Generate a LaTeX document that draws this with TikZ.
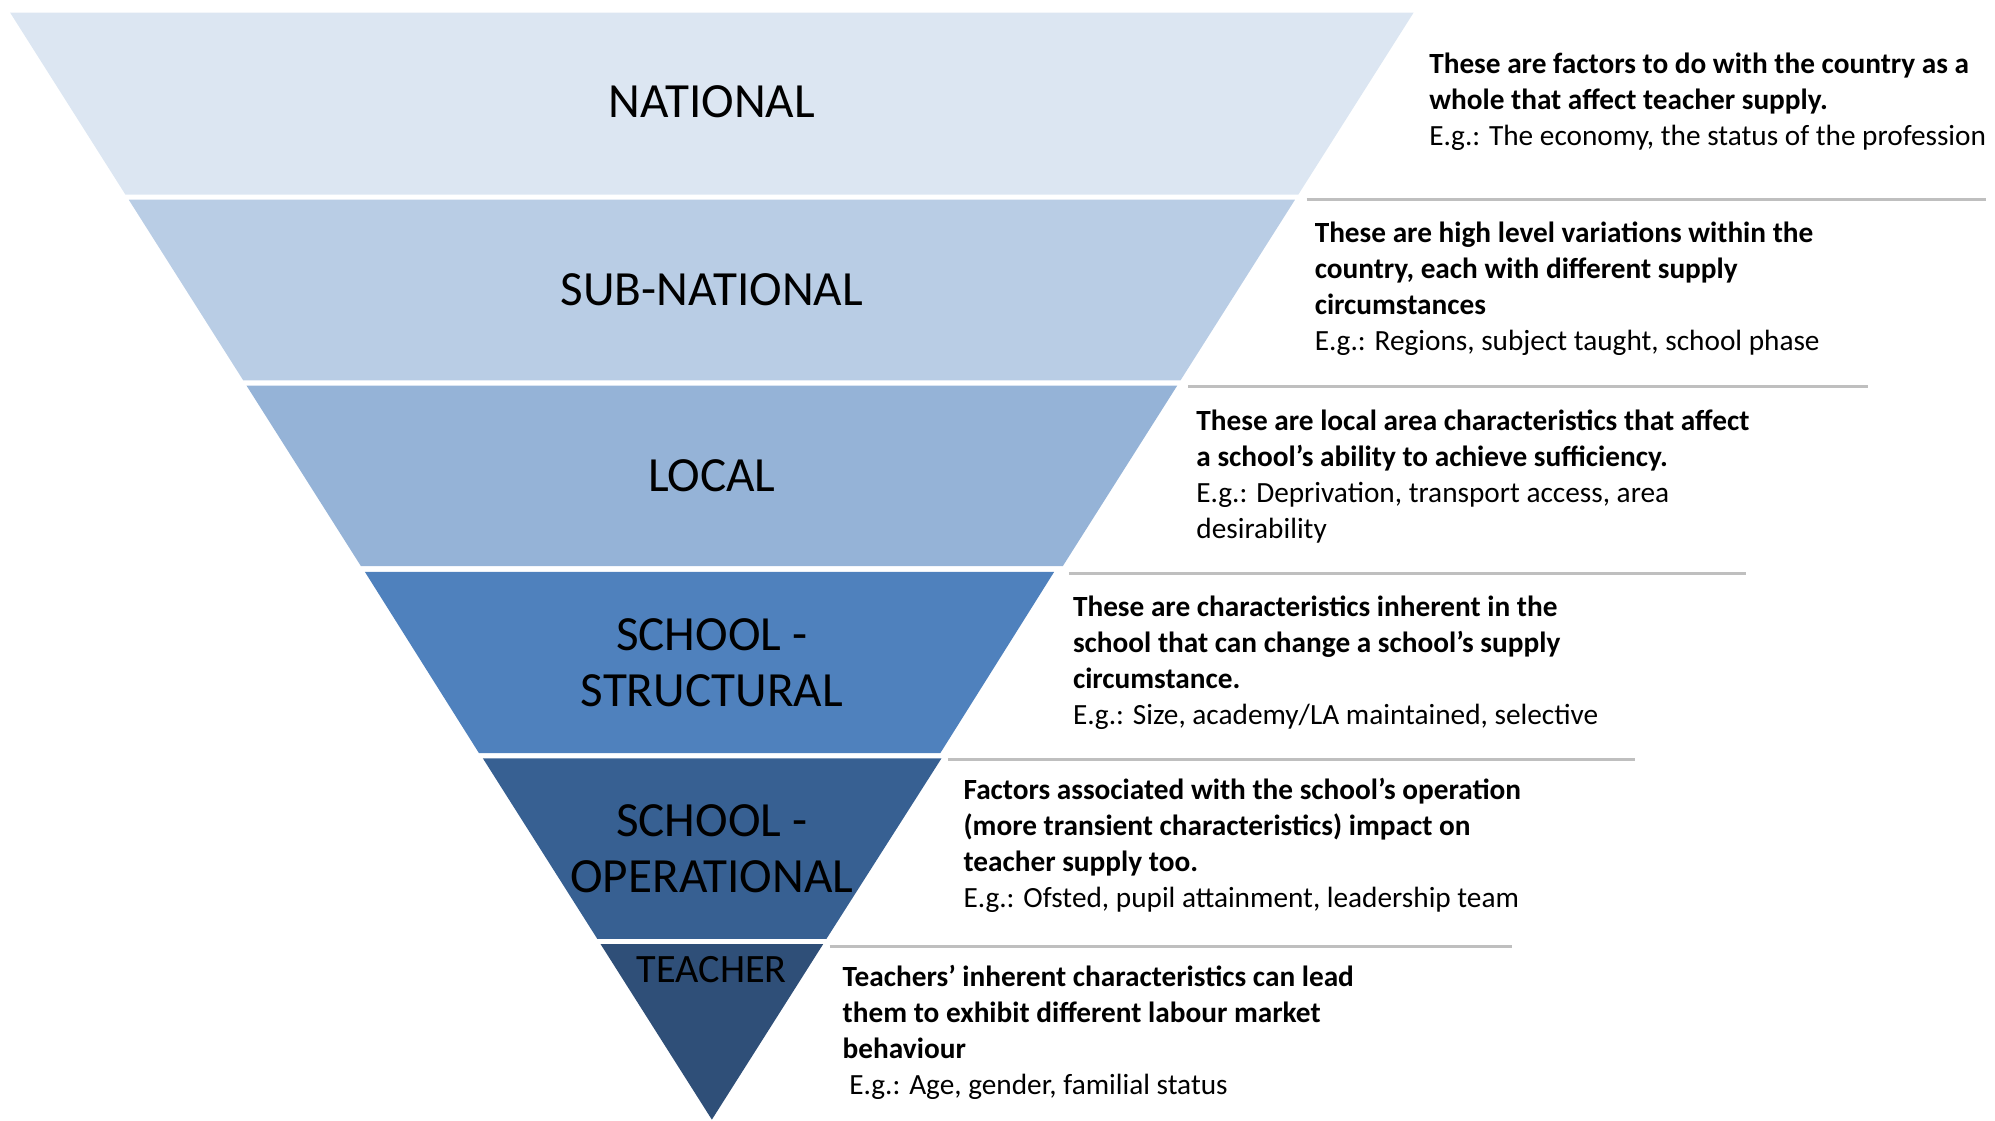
\documentclass[tikz,border=0pt]{standalone}
\usepackage{fontspec}
\setmainfont{Carlito}
\definecolor{national}{HTML}{DCE6F2}
\definecolor{subnational}{HTML}{B9CDE5}
\definecolor{local}{HTML}{95B3D7}
\definecolor{structural}{HTML}{4F81BD}
\definecolor{operational}{HTML}{376092}
\definecolor{teacher}{HTML}{2F4F78}
\definecolor{divgray}{HTML}{BFBFBF}
\begin{document}
\begin{tikzpicture}[x=0.02cm, y=-0.02cm,
  tier/.style={font=\fontsize{22}{25}\selectfont, align=center, inner sep=0},
  factor/.style={font=\fontsize{13.1}{16.1}\selectfont, align=left, anchor=north west, inner sep=0},
  divider/.style={draw=divgray, line width=1.2pt}]
  \useasboundingbox (0,0) rectangle (1568,881);
  % Bands
  \fill[national] (8,10) -- (1111,10) -- (1020.4,153) -- (98.6,153) -- cycle;
  \fill[subnational] (101.2,157) -- (1017.8,157) -- (927.8,299) -- (191.2,299) -- cycle;
  \fill[local] (193.7,303) -- (925.3,303) -- (835.3,445) -- (283.7,445) -- cycle;
  \fill[structural] (286.8,449.5) -- (828.5,449.5) -- (739,592) -- (376.5,592) -- cycle;
  \fill[operational] (379.5,596) -- (740,596) -- (649.5,738) -- (469.5,738) -- cycle;
  \fill[teacher] (472,742) -- (647,742) -- (559.5,880) -- cycle;
  % Labels
  \node (national) [tier] at (559.5,80) {NATIONAL};
  \node (subnational) [tier] at (559.5,228) {SUB-NATIONAL};
  \node (local) [tier] at (559.5,374) {LOCAL};
  \node (structural) [tier] at (559.5,521) {SCHOOL -\\STRUCTURAL};
  \node (operational) [tier] at (559.5,667) {SCHOOL -\\OPERATIONAL};
  \node (teacher) [tier, font=\fontsize{18}{21}\selectfont] at (559.5,762) {TEACHER};
  % Descriptions
  \node (d-national) [factor] at (1123,41) {\textbf{These are factors to do with the country as a}\\\textbf{whole that affect teacher supply.}\\E.g.: The economy, the status of the profession};
  \node (d-subnational) [factor] at (1033,174) {\textbf{These are high level variations within the}\\\textbf{country, each with different supply}\\\textbf{circumstances}\\E.g.: Regions, subject taught, school phase};
  \node (d-local) [factor] at (940,322) {\textbf{These are local area characteristics that affect}\\\textbf{a school’s ability to achieve sufficiency.}\\E.g.: Deprivation, transport access, area\\desirability};
  \node (d-structural) [factor] at (843,468) {\textbf{These are characteristics inherent in the}\\\textbf{school that can change a school’s supply}\\\textbf{circumstance.}\\E.g.: Size, academy/LA maintained, selective};
  \node (d-operational) [factor] at (757,611) {\textbf{Factors associated with the school’s operation}\\\textbf{(more transient characteristics) impact on}\\\textbf{teacher supply too.}\\E.g.: Ofsted, pupil attainment, leadership team};
  \node (d-teacher) [factor] at (662,758) {\textbf{Teachers’ inherent characteristics can lead}\\\textbf{them to exhibit different labour market}\\\textbf{behaviour}\\\hspace*{3pt}E.g.: Age, gender, familial status};
  % Dividers
  \draw[divider] (1027,157) -- (1561,157);
  \draw[divider] (934,304) -- (1468,304);
  \draw[divider] (840,451) -- (1372,451);
  \draw[divider] (745,597) -- (1285,597);
  \draw[divider] (652,744) -- (1188,744);
\end{tikzpicture}
\end{document}
